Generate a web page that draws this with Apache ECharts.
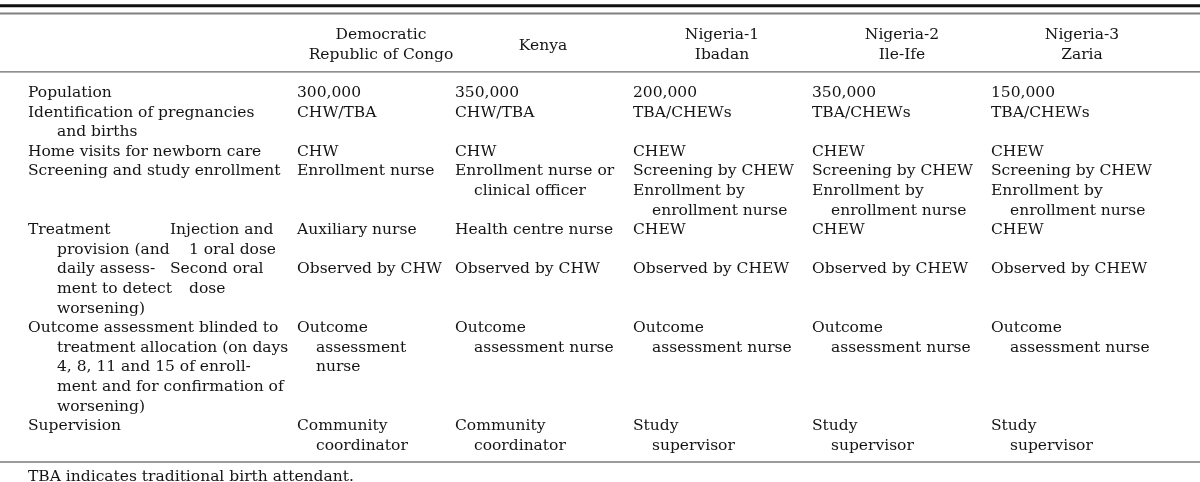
<!DOCTYPE html>
<html><head><meta charset="utf-8">
<script src="https://cdn.jsdelivr.net/npm/echarts@6/dist/echarts.min.js"></script>
<style>html,body{margin:0;padding:0;background:#fff}#c{width:1200px;height:482px}</style>
</head><body><div id="c"></div>
<script>
// ---------- DATA ----------
const columnHeaders = [
  ['Democratic', 'Republic of Congo'],
  ['Kenya'],
  ['Nigeria-1', 'Ibadan'],
  ['Nigeria-2', 'Ile-Ife'],
  ['Nigeria-3', 'Zaria']
];
const rowLabels = [
  ['Population'],
  ['Identification of pregnancies', 'and births'],
  ['Home visits for newborn care'],
  ['Screening and study enrollment'],
  ['Treatment', 'provision (and', 'daily assess-', 'ment to detect', 'worsening)'],
  ['Outcome assessment blinded to', 'treatment allocation (on days', '4, 8, 11 and 15 of enroll-', 'ment and for confirmation of', 'worsening)'],
  ['Supervision']
];
const treatmentSteps = [
  ['Injection and', '1 oral dose'],
  ['Second oral', 'dose']
];
// each cell: list of paragraphs, each paragraph a list of wrapped lines
const drcCells = [
  [['300,000']], [['CHW/TBA']], [['CHW']], [['Enrollment nurse']],
  [['Auxiliary nurse'], ['Observed by CHW']],
  [['Outcome', 'assessment', 'nurse']],
  [['Community', 'coordinator']]
];
const kenyaCells = [
  [['350,000']], [['CHW/TBA']], [['CHW']], [['Enrollment nurse or', 'clinical officer']],
  [['Health centre nurse'], ['Observed by CHW']],
  [['Outcome', 'assessment nurse']],
  [['Community', 'coordinator']]
];
const nigeria1Cells = [
  [['200,000']], [['TBA/CHEWs']], [['CHEW']], [['Screening by CHEW'], ['Enrollment by', 'enrollment nurse']],
  [['CHEW'], ['Observed by CHEW']],
  [['Outcome', 'assessment nurse']],
  [['Study', 'supervisor']]
];
const nigeria2Cells = [
  [['350,000']], [['TBA/CHEWs']], [['CHEW']], [['Screening by CHEW'], ['Enrollment by', 'enrollment nurse']],
  [['CHEW'], ['Observed by CHEW']],
  [['Outcome', 'assessment nurse']],
  [['Study', 'supervisor']]
];
const nigeria3Cells = [
  [['150,000']], [['TBA/CHEWs']], [['CHEW']], [['Screening by CHEW'], ['Enrollment by', 'enrollment nurse']],
  [['CHEW'], ['Observed by CHEW']],
  [['Outcome', 'assessment nurse']],
  [['Study', 'supervisor']]
];
const footnote = 'TBA indicates traditional birth attendant.';

// ---------- LAYOUT ----------
const columnCells = [drcCells, kenyaCells, nigeria1Cells, nigeria2Cells, nigeria3Cells];
const L = {
  labelX: 28, labelIndent: 29,
  stepX: 170, stepIndent: 19,
  colX: [297, 455, 633, 812, 991], colIndent: 19,
  headCenter: [381, 543, 722, 902, 1082],
  treatmentRow: 4,
  lineTop: -4.745, lineBottom: 19.847,
  font: '15.5px "DejaVu Serif"', color: '#141414'
};
const rules = [
  {y: -4.45, w: 3, c: '#111'},
  {y: -4.05, w: 2, c: '#808080'},
  {y: -1.08, w: 1.4, c: '#6a6a6a'},
  {y: 18.83, w: 1.4, c: '#7a7a7a'}
];

const items = [];
function push(x, y, text, align) { items.push({value: [x, y], text: text, align: align}); }

// headers
columnHeaders.forEach((h, i) => {
  if (h.length === 1) push(L.headCenter[i], -2.4, h[0], 'center');
  else h.forEach((t, k) => push(L.headCenter[i], -2.95 + k, t, 'center'));
});
// body
let line = 0;
rowLabels.forEach((lab, r) => {
  let h = lab.length;
  lab.forEach((t, k) => push(L.labelX + (k ? L.labelIndent : 0), line + k, t, 'left'));
  if (r === L.treatmentRow) {
    let s = line;
    const stepStarts = [];
    treatmentSteps.forEach(st => {
      stepStarts.push(s);
      st.forEach((t, k) => push(L.stepX + (k ? L.stepIndent : 0), s + k, t, 'left'));
      s += st.length;
    });
    columnCells.forEach((cells, c) => {
      cells[r].forEach((para, p) => {
        para.forEach((t, k) => push(L.colX[c] + (k ? L.colIndent : 0), stepStarts[p] + k, t, 'left'));
      });
    });
    h = Math.max(h, s - line);
  } else {
    columnCells.forEach((cells, c) => {
      let s = line;
      cells[r].forEach(para => {
        para.forEach((t, k) => push(L.colX[c] + (k ? L.colIndent : 0), s + k, t, 'left'));
        s += para.length;
      });
      h = Math.max(h, s - line);
    });
  }
  line += h;
});
push(L.labelX, 19.58, footnote, 'left');

const chart = echarts.init(document.getElementById('c'), null, {renderer: 'canvas'});
chart.setOption({
  animation: false,
  backgroundColor: '#fff',
  grid: {left: 0, right: 0, top: 0, bottom: 0},
  xAxis: {type: 'value', min: 0, max: 1200, show: false},
  yAxis: {type: 'value', min: L.lineTop, max: L.lineBottom, inverse: true, show: false},
  series: [
    {
      type: 'custom', silent: true,
      data: rules.map(r => [r.y]),
      renderItem: (params, api) => {
        const r = rules[params.dataIndex];
        const p1 = api.coord([0, api.value(0)]);
        const p2 = api.coord([1200, api.value(0)]);
        return {type: 'line', shape: {x1: p1[0], y1: p1[1], x2: p2[0], y2: p2[1]}, style: {stroke: r.c, lineWidth: r.w}};
      }
    },
    {
      type: 'custom', silent: true,
      data: items.map(it => it.value),
      renderItem: (params, api) => {
        const it = items[params.dataIndex];
        const p = api.coord([api.value(0), api.value(1)]);
        return {type: 'text', x: p[0], y: p[1], style: {text: it.text, font: L.font, fill: L.color, align: it.align, verticalAlign: 'middle'}};
      }
    }
  ]
});
</script></body></html>
